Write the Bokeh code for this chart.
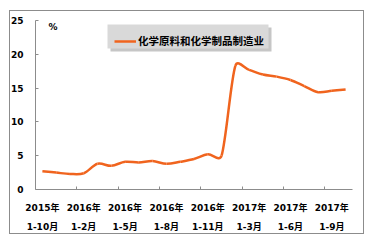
import numpy as np
from bokeh.plotting import figure
from bokeh.models import (FixedTicker, LinearAxis, Range1d, Legend, LegendItem,
                          BoxAnnotation, Label, ColumnDataSource, InlineStyleSheet)
from bokeh.embed import file_html
from bokeh.resources import INLINE

# ---- data ----
periods = ["2015年1-10月", "2015年1-11月", "2015年1-12月",
           "2016年1-2月", "2016年1-3月", "2016年1-4月", "2016年1-5月", "2016年1-6月",
           "2016年1-7月", "2016年1-8月", "2016年1-9月", "2016年1-10月", "2016年1-11月",
           "2016年1-12月",
           "2017年1-2月", "2017年1-3月", "2017年1-4月", "2017年1-5月", "2017年1-6月",
           "2017年1-7月", "2017年1-8月", "2017年1-9月", "2017年1-10月"]
values = [2.7, 2.5, 2.3, 2.4, 3.8, 3.5, 4.1, 4.0, 4.2, 3.8, 4.1, 4.5, 5.2, 5.0,
          18.3, 17.7, 17.0, 16.7, 16.2, 15.3, 14.4, 14.6, 14.8]
tick_years = ["2015年", "2016年", "2016年", "2016年", "2016年", "2017年", "2017年", "2017年"]
tick_months = ["1-10月", "1-2月", "1-5月", "1-8月", "1-11月", "1-3月", "1-6月", "1-9月"]
y_ticks = [0, 5, 10, 15, 20, 25]
series_name = "化学原料和化学制品制造业"

ORANGE = "#f0641e"
AXIS = "#8c8c8c"
FONT = "DejaVu Sans, Noto Sans CJK SC"
CJK = "Noto Sans CJK SC"

n = len(values)
xs = np.arange(n, dtype=float)
ys = np.array(values, dtype=float)

W, H = 373, 242
L, R, T, B = 35, 21, 20, 53
FW, FH = W - L - R, H - T - B
x_lo, x_hi = -0.5, n - 0.5
y_lo, y_hi = 0, 25
sx = FW / (x_hi - x_lo)   # px per category
sy = FH / (y_hi - y_lo)   # px per unit

def limited(vx, vy, a, b):
    seg = np.hypot((b[0] - a[0]) * sx, (b[1] - a[1]) * sy)
    vl = np.hypot(vx * sx, vy * sy)
    if vl > seg / 2 and vl > 0:
        f = (seg / 2) / vl
        vx, vy = vx * f, vy * f
    return vx, vy

pts = list(zip(xs, ys))
x0, y0, x1, y1, cx0, cy0, cx1, cy1 = ([] for _ in range(8))
for i in range(n - 1):
    p0 = pts[i - 1] if i > 0 else pts[i]
    p1 = pts[i]
    p2 = pts[i + 1]
    p3 = pts[i + 2] if i + 2 < n else pts[i + 1]
    ax, ay = limited((p2[0] - p0[0]) / 6.0, (p2[1] - p0[1]) / 6.0, p1, p2)
    bx, by = limited((p3[0] - p1[0]) / 6.0, (p3[1] - p1[1]) / 6.0, p1, p2)
    x0.append(p1[0]); y0.append(p1[1])
    x1.append(p2[0]); y1.append(p2[1])
    cx0.append(p1[0] + ax); cy0.append(p1[1] + ay)
    cx1.append(p2[0] - bx); cy1.append(p2[1] - by)

src = ColumnDataSource(dict(x0=x0, y0=y0, x1=x1, y1=y1, cx0=cx0, cy0=cy0, cx1=cx1, cy1=cy1))

# outer border of the chart, drawn as an overlay on the plot element
border_css = InlineStyleSheet(css="""
:host { position: relative; }
:host::after {
  content: "";
  position: absolute;
  left: 9px; top: 10px;
  width: 353px; height: 222px;
  border: 1px solid #8c8c8c;
  pointer-events: none;
  z-index: 1000;
}
""")

p = figure(frame_width=FW, frame_height=FH, x_range=Range1d(x_lo, x_hi), y_range=Range1d(y_lo, y_hi),
           output_backend="svg", toolbar_location=None,
           x_axis_location=None, y_axis_location=None,
           min_border_left=L, min_border_right=R, min_border_top=T, min_border_bottom=B,
           stylesheets=[border_css])
p.xgrid.visible = False
p.ygrid.visible = False
p.outline_line_color = None
p.background_fill_color = "white"
p.border_fill_color = "white"

# y axis
yax = LinearAxis(ticker=FixedTicker(ticks=y_ticks, minor_ticks=[]))
yax.axis_line_color = AXIS
yax.major_tick_line_color = AXIS
yax.major_tick_in = 3
yax.major_tick_out = 0
yax.minor_tick_line_color = None
yax.major_label_standoff = 12
yax.major_label_text_font = FONT
yax.major_label_text_font_style = "bold"
yax.major_label_text_font_size = "9px"
yax.major_label_text_color = "black"
p.add_layout(yax, "left")

# x axis (years row)
label_pos = [float(i) for i in range(0, n, 3)][:len(tick_years)]
bounds = [i - 0.5 for i in range(3, n, 3)]
xax = LinearAxis(ticker=FixedTicker(ticks=label_pos, minor_ticks=bounds))
xax.major_label_overrides = {pos: lab for pos, lab in zip(label_pos, tick_years)}
xax.axis_line_color = AXIS
xax.major_tick_line_color = None
xax.major_tick_in = 0
xax.major_tick_out = 0
xax.minor_tick_line_color = AXIS
xax.minor_tick_in = 3
xax.minor_tick_out = 0
xax.major_label_standoff = 13
xax.major_label_text_font = FONT
xax.major_label_text_font_style = "bold"
xax.major_label_text_font_size = "9px"
xax.major_label_text_color = "black"
p.add_layout(xax, "below")

# x axis (months row)
xax2 = LinearAxis(ticker=FixedTicker(ticks=label_pos, minor_ticks=[]))
xax2.major_label_overrides = {pos: lab for pos, lab in zip(label_pos, tick_months)}
xax2.axis_line_color = None
xax2.major_tick_line_color = None
xax2.major_tick_in = 0
xax2.major_tick_out = 0
xax2.minor_tick_line_color = None
xax2.major_label_standoff = 6
xax2.major_label_text_font = FONT
xax2.major_label_text_font_style = "bold"
xax2.major_label_text_font_size = "9px"
xax2.major_label_text_color = "black"
p.add_layout(xax2, "below")

# series line (smoothed)
curve = p.bezier(x0="x0", y0="y0", x1="x1", y1="y1", cx0="cx0", cy0="cy0", cx1="cx1", cy1="cy1",
                 source=src, line_color=ORANGE, line_width=2.5)

# legend box with shadow (data coords derived from pixel layout)
def px2x(px):
    return (px - L) / sx + x_lo
def py2y(py):
    return y_hi - (py - T) / sy

p.add_layout(BoxAnnotation(left=px2x(110), right=px2x(271), top=py2y(27), bottom=py2y(51),
                           fill_color="#a0a0a0", fill_alpha=0.6, line_color=None))
p.add_layout(BoxAnnotation(left=px2x(107), right=px2x(268), top=py2y(24), bottom=py2y(48),
                           fill_color="#d9d9d9", fill_alpha=1, line_color=None))

legend = Legend(items=[LegendItem(label=series_name, renderers=[curve])],
                location=(79, 141), orientation="horizontal",
                background_fill_alpha=0, border_line_color=None,
                padding=6, margin=0, glyph_width=22, glyph_height=12,
                label_height=12, label_standoff=2,
                label_text_font=CJK, label_text_font_style="bold",
                label_text_font_size="10.5px", label_text_color="black")
p.add_layout(legend, "center")

p.add_layout(Label(x=px2x(48), y=py2y(26), text="%", text_baseline="middle",
                   text_font=FONT, text_font_style="bold", text_font_size="9px",
                   text_color="black"))

open("out.html", "w").write(file_html(p, INLINE))
